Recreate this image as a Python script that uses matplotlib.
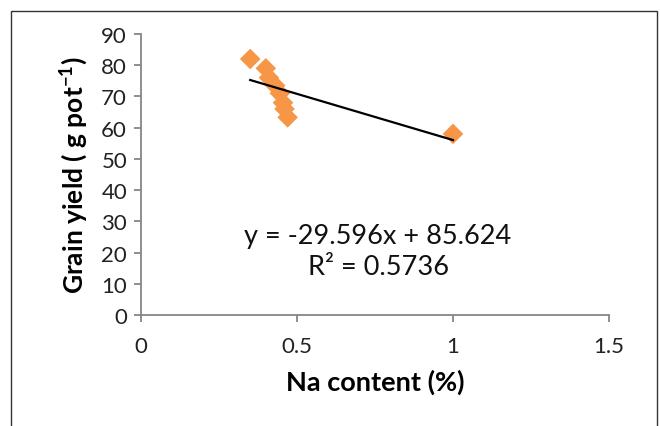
import matplotlib
matplotlib.use("Agg")
import matplotlib.pyplot as plt
from matplotlib.patches import Rectangle
import numpy as np

na_content = [0.35, 0.40, 0.41, 0.43, 0.445, 0.455, 0.46, 0.47, 1.0]
grain_yield = [82.0, 79.0, 76.0, 73.5, 71.0, 68.0, 66.0, 63.3, 58.0]
slope = -29.596
intercept = 85.624
r_squared = 0.5736
x_ticks = [0, 0.5, 1, 1.5]
y_ticks = list(range(0, 100, 10))

plt.rcParams['font.family'] = ['Lato', 'DejaVu Sans']

fig = plt.figure(figsize=(6.6, 4.27), dpi=100)
fig.patch.set_facecolor('white')
# outer frame
fig.patches.append(Rectangle((11/660, -0.05), (657-11)/660, 1 - 12/427 + 0.05,
                             transform=fig.transFigure, fill=False,
                             edgecolor='#333333', linewidth=1.0))

ax = fig.add_axes([141/660, 1-316/427, (609-141)/660, (316-35)/427])
grey = '#868686'
for s in ['top', 'right']:
    ax.spines[s].set_visible(False)
for s in ['left', 'bottom']:
    ax.spines[s].set_color(grey)
    ax.spines[s].set_linewidth(1.3)

ax.scatter(na_content, grain_yield, marker='D', s=110, color='#F79646',
           edgecolors='none', zorder=2)
xl = np.array([min(na_content), max(na_content)])
ax.plot(xl, slope * xl + intercept, color='black', linewidth=1.6, zorder=3)

ax.set_xlim(0, 1.5)
ax.set_ylim(0, 90)
ax.set_xticks(x_ticks)
ax.set_xticklabels(['0', '0.5', '1', '1.5'])
ax.set_yticks(y_ticks)
ax.tick_params(axis='both', direction='out', length=5, width=1.3, color=grey,
               labelsize=16, labelcolor='#222222')
ax.tick_params(axis='x', pad=10)
ax.tick_params(axis='y', pad=5)

ax.set_xlabel('Na content (%)', fontsize=19.5, fontweight='bold', labelpad=9)
ax.set_ylabel('Grain yield ( g pot$^{\\mathregular{-1}}$)', fontsize=19,
              fontweight='bold', labelpad=8)

ax.text(0.76, 25.5, f'y = {slope}x + {intercept}', fontsize=19.5,
        ha='center', va='center', color='#111111')
ax.text(0.76, 15.5, f'R² = {r_squared}', fontsize=19.5,
        ha='center', va='center', color='#111111')

fig.savefig('out.png', dpi=100)
